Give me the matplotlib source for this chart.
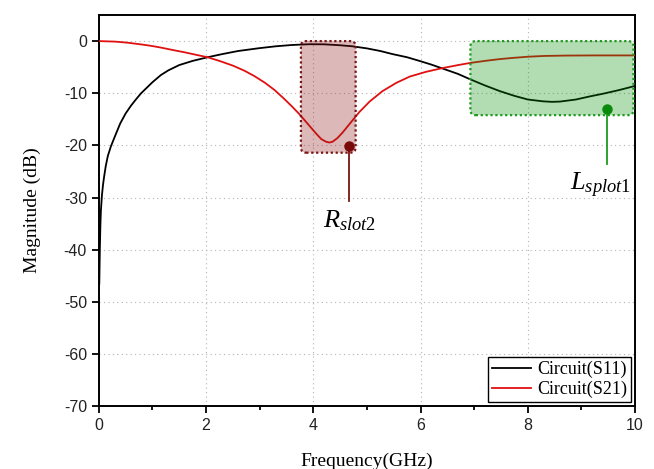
import matplotlib
matplotlib.use("Agg")
import matplotlib.pyplot as plt
from matplotlib.patches import FancyBboxPatch

plt.rcParams['axes.unicode_minus'] = False
plt.rcParams['mathtext.fontset'] = 'custom'
plt.rcParams['mathtext.rm'] = 'Liberation Serif'
plt.rcParams['mathtext.it'] = 'Liberation Serif:italic'

# S11
s11_f = [0.01, 0.02, 0.03, 0.04, 0.06, 0.08, 0.1, 0.13, 0.17, 0.226, 0.3, 0.4,
         0.5, 0.6, 0.7, 0.79, 0.9, 1.0, 1.16, 1.3, 1.5, 1.75, 2.03, 2.3,
         2.6, 3.0, 3.3, 3.6, 3.93, 4.2, 4.5, 4.73, 5.0, 5.25, 5.48, 5.75,
         5.98, 6.2, 6.45, 6.7, 6.92, 7.2, 7.48, 7.75, 8.0, 8.28, 8.45, 8.6,
         8.9, 9.16, 9.4, 9.7, 10.0]
s11_db = [-46.5, -40, -35.5, -32.5, -29.5, -27.5, -26, -24, -22, -20.2, -18.3, -15.8,
          -13.9, -12.4, -11.1, -10.0, -8.9, -7.9, -6.5, -5.6, -4.6, -3.8, -3.1, -2.5,
          -1.9, -1.35, -1.0, -0.75, -0.6, -0.62, -0.8, -1.0, -1.4, -1.9, -2.5, -3.1,
          -3.8, -4.5, -5.4, -6.3, -7.3, -8.5, -9.6, -10.5, -11.2, -11.55, -11.65, -11.6,
          -11.2, -10.6, -10.1, -9.4, -8.6]

# S21
s21_f = [0.0, 0.3, 0.53, 0.8, 1.0, 1.16, 1.4, 1.6, 1.8, 2.03, 2.25, 2.5,
         2.72, 2.9, 3.1, 3.28, 3.45, 3.6, 3.74, 3.9, 4.05, 4.15, 4.24, 4.3,
         4.36, 4.45, 4.55, 4.7, 4.86, 5.05, 5.29, 5.55, 5.8, 6.1, 6.4, 6.7,
         6.92, 7.2, 7.48, 7.75, 8.0, 8.3, 8.7, 9.2, 10.0]
s21_db = [0.0, -0.1, -0.3, -0.65, -0.95, -1.25, -1.75, -2.15, -2.6, -3.1, -3.8, -4.7,
          -5.7, -6.7, -8.0, -9.4, -11.0, -12.5, -14.0, -15.9, -17.7, -18.8, -19.3, -19.45,
          -19.3, -18.6, -17.5, -15.6, -13.6, -11.6, -9.6, -8.0, -6.8, -5.9, -5.2, -4.6,
          -4.2, -3.8, -3.45, -3.2, -3.0, -2.85, -2.78, -2.75, -2.75]

x_ticks = [0, 2, 4, 6, 8, 10]
y_ticks = [0, -10, -20, -30, -40, -50, -60, -70]

fig = plt.figure(figsize=(6.54, 4.69), dpi=100)
ax = fig.add_axes([0.151, 0.134, 0.820, 0.834])

ax.plot(s11_f, s11_db, color='black', lw=1.3, label='Circuit(S11)', zorder=3)
ax.plot(s21_f, s21_db, color='#e01010', lw=1.3, label='Circuit(S21)', zorder=3)

# highlighted regions
red_box = FancyBboxPatch((3.77, -21.4), 1.02, 21.4,
                         boxstyle="round,pad=0,rounding_size=0.1", mutation_aspect=10,
                         facecolor=(0.55, 0.08, 0.08, 0.3), edgecolor='#7a1414',
                         lw=1.6, ls=(0, (1, 1.2)), zorder=4)
green_box = FancyBboxPatch((6.93, -14.2), 3.04, 14.2,
                           boxstyle="round,pad=0,rounding_size=0.1", mutation_aspect=10,
                           facecolor=(0.0, 0.55, 0.0, 0.3), edgecolor='#1f9a1f',
                           lw=1.6, ls=(0, (1, 1.2)), zorder=4)
ax.add_patch(red_box)
ax.add_patch(green_box)

ax.plot([4.66, 4.66], [-20.1, -30.6], color='#7a1414', lw=1.3, zorder=5)
ax.plot(4.66, -20.1, 'o', color='#7a0a0a', ms=6.5, zorder=6)
ax.plot([9.47, 9.47], [-13.06, -23.6], color='#1f9a1f', lw=1.3, zorder=5)
ax.plot(9.47, -13.06, 'o', color='#0a8a0a', ms=6.5, zorder=6)

ax.text(4.68, -35.7, r'$R_{slot2}$', fontsize=19, ha='center', va='baseline')
ax.text(9.35, -28.7, r'$L_{splot1}$', fontsize=19, ha='center', va='baseline')

ax.set_xlim(0, 10)
ax.set_ylim(-70, 5)
ax.set_xticks(x_ticks)
ax.set_xticks([1, 3, 5, 7, 9], minor=True)
ax.set_yticks(y_ticks)
ax.tick_params(axis='both', which='both', direction='out', top=False, right=False,
               labelsize=11.5, width=1.3, colors='black')
ax.tick_params(which='major', length=5)
ax.tick_params(which='minor', length=3)
for lab in ax.get_xticklabels() + ax.get_yticklabels():
    lab.set_fontfamily('Liberation Sans')
    lab.set_color('#222222')
for sp in ax.spines.values():
    sp.set_linewidth(1.4)

ax.grid(True, which='major', ls=(0, (1, 3)), color='#b4b4b4', lw=0.8)
ax.set_axisbelow(True)

ax.set_xlabel('Frequency(GHz)', fontfamily='Liberation Serif', fontsize=14, labelpad=14)
ax.set_ylabel('Magnitude (dB)', fontfamily='Liberation Serif', fontsize=14, labelpad=16)

leg = ax.legend(loc='lower right', prop={'family': 'Liberation Serif', 'size': 13},
                fancybox=False, framealpha=1, edgecolor='black', borderaxespad=0.25,
                handlelength=2.2, handletextpad=0.3, borderpad=0.2, labelspacing=0.15)
leg.get_frame().set_linewidth(1.0)

fig.savefig('out.png', dpi=100)
